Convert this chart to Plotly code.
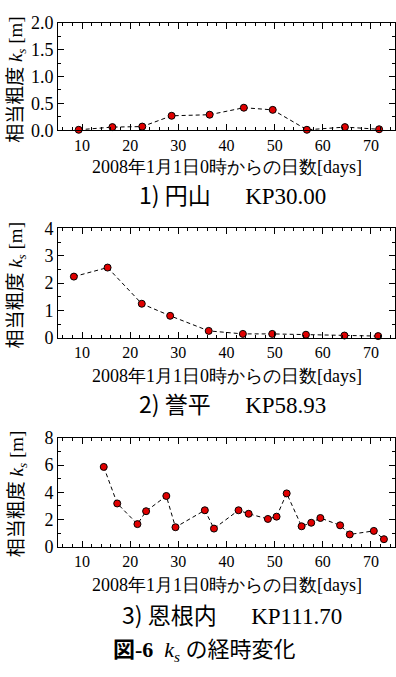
import plotly.graph_objects as go

# ---- data ----
days1 = [9.3, 16.3, 22.5, 28.6, 36.5, 43.6, 49.6, 56.7, 64.6, 71.7]
ks1 = [0.01, 0.06, 0.07, 0.27, 0.29, 0.42, 0.38, 0.01, 0.06, 0.02]

days2 = [8.3, 15.3, 22.4, 28.3, 36.3, 43.4, 49.5, 56.5, 64.5, 71.5]
ks2 = [2.24, 2.57, 1.25, 0.81, 0.26, 0.15, 0.15, 0.12, 0.09, 0.07]

days3 = [14.5, 17.3, 21.5, 23.3, 27.5, 29.4, 35.5, 37.4, 42.5, 44.6,
         48.6, 50.4, 52.5, 55.6, 57.6, 59.5, 63.6, 65.6, 70.6, 72.7]
ks3 = [5.87, 3.18, 1.66, 2.61, 3.73, 1.43, 2.68, 1.33, 2.68, 2.42,
       2.04, 2.21, 3.92, 1.50, 1.76, 2.11, 1.57, 0.90, 1.16, 0.55]

x_ticks = [10, 20, 30, 40, 50, 60, 70]
captions = ["1) 円山", "2) 誉平", "3) 恩根内"]
kps = ["KP30.00", "KP58.93", "KP111.70"]
x_title = "2008年1月1日0時からの日数[days]"

W, H = 396, 677
SERIF = "Liberation Serif, Times New Roman, serif"
SANS = "Noto Sans CJK JP, Noto Sans, sans-serif"


def py(p):
    return 1 - p / H


fig = go.Figure()

series = [(days1, ks1), (days2, ks2), (days3, ks3)]
for i, (d, k) in enumerate(series):
    sfx = "" if i == 0 else str(i + 1)
    fig.add_trace(go.Scatter(
        x=d, y=k, mode="lines+markers",
        xaxis="x" + sfx, yaxis="y" + sfx,
        line=dict(color="black", width=1, dash="4px,3px"),
        marker=dict(color="#e00000", size=7, line=dict(color="black", width=1)),
        showlegend=False, cliponaxis=False, hoverinfo="skip",
    ))

# plot pixel bands
bands = [(13, 124), (225, 338), (441, 553)]
yranges = [(0, 2.0), (0, 4), (0, 8)]
ydt = [0.5, 1, 2]
yfmt = [".1f", "d", "d"]

layout = dict(width=W, height=H, margin=dict(l=0, r=0, t=0, b=0),
              paper_bgcolor="white", plot_bgcolor="white",
              font=dict(family=SERIF, color="black"))

for i in range(3):
    sfx = "" if i == 0 else str(i + 1)
    top, bot = bands[i]
    ax_common = dict(showline=True, linecolor="black", linewidth=1, mirror="allticks",
                     ticks="inside", ticklen=6, tickcolor="black", tickwidth=1,
                     showgrid=False, zeroline=False)
    layout["xaxis" + sfx] = dict(
        domain=[58 / W, 395 / W], range=[5, 75], anchor="y" + sfx,
        tickvals=x_ticks, tickfont=dict(family=SERIF, size=16),
        minor=dict(dtick=2, ticklen=3, ticks="inside", tickcolor="black", showgrid=False),
        **ax_common)
    layout["yaxis" + sfx] = dict(
        domain=[py(bot), py(top)], range=list(yranges[i]), anchor="x" + sfx,
        dtick=ydt[i], tick0=0, tickformat=yfmt[i], tickfont=dict(family=SERIF, size=18),
        minor=dict(dtick=ydt[i] / 2, ticklen=3, ticks="inside", tickcolor="black", showgrid=False),
        **ax_common)

annotations = []
ytitle = (f"<span style='font-family:{SANS}'>相当粗度</span> "
          f"<i>k<sub>s</sub></i> [m]")
ycent = [72, 284, 499]
xt_y = [162, 377, 592]
cap_y = [190, 405, 622]
for i in range(3):
    annotations.append(dict(text=ytitle, x=15 / W, y=py(ycent[i]), xref="paper", yref="paper",
                            textangle=-90, showarrow=False, xanchor="center", yanchor="middle",
                            font=dict(family=SERIF, size=19)))
    annotations.append(dict(text=x_title, x=227 / W, y=py(xt_y[i]), xref="paper", yref="paper",
                            showarrow=False, xanchor="center", yanchor="middle",
                            font=dict(family=SERIF, size=18)))
    cap = (f"<span style='font-family:{SANS}'>{captions[i]}</span>"
           + "&nbsp;" * 6 + kps[i])
    annotations.append(dict(text=cap, x=232 / W, y=py(cap_y[i]), xref="paper", yref="paper",
                            showarrow=False, xanchor="center", yanchor="middle",
                            font=dict(family=SERIF, size=23)))

fig_cap = (f"<b><span style='font-family:{SANS}'>図</span>-6</b>&nbsp;&nbsp;<i>k<sub>s</sub></i> "
           f"<span style='font-family:{SANS}'>の経時変化</span>")
annotations.append(dict(text=fig_cap, x=205 / W, y=py(657), xref="paper", yref="paper",
                        showarrow=False, xanchor="center", yanchor="middle",
                        font=dict(family=SERIF, size=22)))

layout["annotations"] = annotations
fig.update_layout(**layout)
fig.write_html("out.html", config={"displayModeBar": False, "staticPlot": True},
               post_script="document.body.style.margin='0';document.body.style.padding='0';"
                           "document.body.style.overflow='hidden';")
